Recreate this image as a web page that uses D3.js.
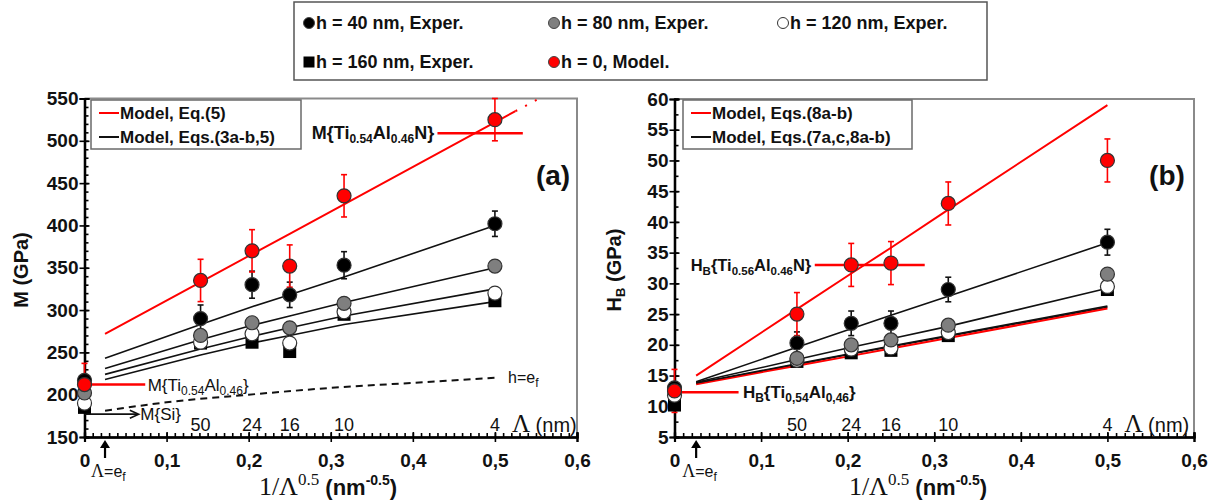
<!DOCTYPE html>
<html>
<head>
<meta charset="utf-8">
<script src="https://cdnjs.cloudflare.com/ajax/libs/d3/7.8.5/d3.min.js"></script>
<style>
  body { margin: 0; background: #fff; }
  text { font-family: "Liberation Sans", Arial, sans-serif; }
  .serif { font-family: "Liberation Serif", "Times New Roman", serif; }
</style>
</head>
<body>
<svg id="chart" width="1217" height="500"></svg>
<script>
// x positions: 1/sqrt(Lambda), first one is the bulk (x=0)
var xExp = [0, 0.1414, 0.2041, 0.25, 0.3162, 0.5];
var xModel = [0.025, 0.1414, 0.2041, 0.25, 0.3162, 0.5];
var lambdaX = [0.1414, 0.2041, 0.25, 0.3162, 0.5];
var lambdaLabels = ["50", "24", "16", "10", "4"];

// panel (a): M (GPa)
var M_h0 = [212, 335, 370, 352, 435, 525];
var M_h0_err = [25, 25, 25, 25, 25, 25];
var M_h40 = [217, 290, 330, 318, 353, 402];
var M_h40_err = [0, 16, 16, 15, 16, 15];
var M_h80 = [202, 270, 285, 279, 308, 352];
var M_h120 = [190, 262, 272, 261, 298, 320];
var M_h160 = [185, 261, 262, 251, 295, 311];
var M_model_red = [272, 333, 366, 390, 425, 535];
var M_model_redX = [0.025, 0.1414, 0.2041, 0.25, 0.3162, 0.525];
var M_model_dotX = [0.525, 0.556];
var M_model_dot = [535, 551];
var M_model_h40 = [243, 283, 304, 318, 339, 400];
var M_model_h80 = [231, 265, 282, 293, 309, 350];
var M_model_h120 = [224, 254, 269, 279, 293, 325];
var M_model_h160 = [218, 247, 261, 270, 283, 310];
var M_dashX = [0.025, 0.1, 0.2, 0.3, 0.4, 0.5];
var M_dash = [181, 191, 200, 208, 214, 220];

// panel (b): H_B (GPa)
var H_h0 = [12.5, 25, 33, 33.3, 43, 50];
var H_h0_err = [3.5, 3.5, 3.5, 3.5, 3.5, 3.5];
var H_h40 = [13, 20.3, 23.5, 23.5, 29, 36.7];
var H_h40_err = [0, 1.8, 2, 2, 2, 2.1];
var H_h80 = [12.8, 17.8, 20, 20.8, 23.2, 31.5];
var H_h120 = [11.8, 17.5, 19.3, 19.5, 22, 29.5];
var H_h160 = [10.2, 17.3, 18.7, 19.1, 21.5, 29];
var H_model_red = [15, 25.8, 31.6, 35.8, 42, 59];
var H_model_red2 = [13.6, 16.6, 18.2, 19.4, 21.1, 25.9];
var H_model_h40 = [14, 19.6, 22.6, 24.8, 27.9, 36.6];
var H_model_h80 = [13.9, 17.6, 19.6, 21.0, 23.0, 29.2];
var H_model_h120 = [13.8, 16.9, 18.6, 19.8, 21.5, 26.3];
var H_model_h160 = [13.7, 16.8, 18.5, 19.7, 21.4, 26.1];

var svg = d3.select("#chart");
var RED = "#ff0000";

function pts(xs, ys) { return xs.map(function(v, i) { return [v, ys[i]]; }); }

function drawPanel(p) {
  var x = d3.scaleLinear().domain([0, 0.6]).range(p.xr);
  var y = d3.scaleLinear().domain(p.yd).range([437, p.yTop]);
  var g = svg.append("g");

  // plot frame
  g.append("path")
    .attr("d", "M" + x(0) + "," + y(p.yd[1]) + "H" + x(0.6) + "V" + y(p.yd[0]))
    .attr("fill", "none").attr("stroke", "#8a8a8a").attr("stroke-width", 2);

  // axes: major ticks cross the axis, minor ticks inside
  var fmtX = function(d) { return d === 0 ? "0" : d3.format(".1f")(d).replace(".", ","); };
  var xa = g.append("g").attr("transform", "translate(0," + y(p.yd[0]) + ")");
  xa.call(d3.axisBottom(x).tickValues(d3.range(0, 0.61, 0.1)).tickSize(5).tickFormat(fmtX));
  xa.append("g").call(d3.axisTop(x).tickValues(d3.range(0, 0.601, 0.1)).tickSize(5).tickFormat(""));
  xa.append("g").call(d3.axisTop(x).tickValues(d3.range(0, 0.601, 0.01)).tickSize(4).tickFormat(""));
  var ya = g.append("g").attr("transform", "translate(" + x(0) + ",0)");
  ya.call(d3.axisLeft(y).tickValues(d3.range(p.yd[0], p.yd[1] + 0.1, p.yStep)).tickSize(5));
  ya.append("g").call(d3.axisRight(y).tickValues(d3.range(p.yd[0], p.yd[1] + 0.1, p.yStep)).tickSize(5).tickFormat(""));
  ya.append("g").call(d3.axisRight(y).tickValues(d3.range(p.yd[0], p.yd[1] + 0.1, p.yMinor)).tickSize(4).tickFormat(""));
  g.selectAll(".domain").attr("stroke", "#000").attr("stroke-width", 2.2);
  g.selectAll(".tick line").attr("stroke", "#000").attr("stroke-width", 1.6);
  xa.selectAll(".tick text").attr("font-size", 19).attr("font-weight", "bold").attr("fill", "#111").attr("dy", "1.15em");
  ya.selectAll(".tick text").attr("font-size", 19).attr("font-weight", "bold").attr("fill", "#111").attr("x", -6);

  var line = d3.line().x(function(d) { return x(d[0]); }).y(function(d) { return y(d[1]); });

  // model lines
  p.blackLines.forEach(function(ys) {
    g.append("path").datum(pts(xModel, ys)).attr("d", line)
      .attr("fill", "none").attr("stroke", "#111").attr("stroke-width", 1.6);
  });
  p.redLines.forEach(function(l) {
    g.append("path").datum(pts(l[0], l[1])).attr("d", line)
      .attr("fill", "none").attr("stroke", RED).attr("stroke-width", 2);
  });
  if (p.extra) p.extra(g, x, y, line);

  // error bars
  function errBars(ys, es, col) {
    ys.forEach(function(v, i) {
      if (!es[i]) return;
      var cx = x(xExp[i]);
      var eg = g.append("g").attr("stroke", col).attr("stroke-width", 1.6);
      eg.append("line").attr("x1", cx).attr("x2", cx).attr("y1", y(v - es[i])).attr("y2", y(v + es[i]));
      [v - es[i], v + es[i]].forEach(function(e) {
        eg.append("line").attr("x1", cx - 3).attr("x2", cx + 3).attr("y1", y(e)).attr("y2", y(e));
      });
    });
  }
  errBars(p.h40, p.h40err, "#111");
  errBars(p.h0, p.h0err, RED);

  // markers
  g.selectAll(".sq").data(pts(xExp, p.h160)).enter().append("rect")
    .attr("x", function(d) { return x(d[0]) - 6.5; }).attr("y", function(d) { return y(d[1]) - 6.5; })
    .attr("width", 13).attr("height", 13).attr("fill", "#000");
  [[p.h120, "#fff"], [p.h80, "#7f7f7f"], [p.h40, "#000"], [p.h0, RED]].forEach(function(s) {
    g.append("g").selectAll("circle").data(pts(xExp, s[0])).enter().append("circle")
      .attr("cx", function(d) { return x(d[0]); }).attr("cy", function(d) { return y(d[1]); })
      .attr("r", 7).attr("fill", s[1]).attr("stroke", "#333").attr("stroke-width", 1.2);
  });

  // Lambda labels
  g.selectAll(".lam").data(lambdaX).enter().append("text")
    .attr("x", function(d) { return x(d); }).attr("y", 431)
    .attr("text-anchor", "middle").attr("font-size", 18).attr("fill", "#111")
    .text(function(d, i) { return lambdaLabels[i]; });
  var lt = g.append("text").attr("x", x(0.5) + 17).attr("y", 432).attr("fill", "#111");
  lt.append("tspan").attr("class", "serif").attr("font-size", 25).text("Λ");
  lt.append("tspan").attr("font-size", 20).text(" (nm)");

  // arrow Lambda = e_f
  var ax = x(0.025);
  g.append("line").attr("x1", ax).attr("x2", ax).attr("y1", 458).attr("y2", 446)
    .attr("stroke", "#000").attr("stroke-width", 2.2);
  g.append("path").attr("d", "M" + (ax - 5) + ",448L" + ax + ",440L" + (ax + 5) + ",448Z").attr("fill", "#000");
  var el = g.append("text").attr("x", ax - 14).attr("y", 477).attr("font-size", 16).attr("fill", "#111");
  el.append("tspan").attr("class", "serif").attr("font-size", 18).text("Λ");
  el.append("tspan").text("=e");
  el.append("tspan").attr("dy", 4).attr("font-size", 12).text("f");

  // x title
  var xt = g.append("text").attr("x", p.xTitleX).attr("y", 495).attr("text-anchor", "middle").attr("fill", "#111");
  xt.append("tspan").attr("class", "serif").attr("font-size", 26).text("1/Λ");
  xt.append("tspan").attr("class", "serif").attr("font-size", 17).attr("dy", -10).text("0.5");
  xt.append("tspan").attr("font-size", 22).attr("font-weight", "bold").attr("dy", 10).text(" (nm");
  xt.append("tspan").attr("font-size", 14).attr("font-weight", "bold").attr("dy", -10).text("-0.5");
  xt.append("tspan").attr("font-size", 22).attr("font-weight", "bold").attr("dy", 10).text(")");

  // y title
  var yt = g.append("text").attr("transform", "translate(" + p.yTitleX + ",270) rotate(-90)")
    .attr("text-anchor", "middle").attr("font-size", 20).attr("font-weight", "bold").attr("fill", "#111");
  p.yTitle(yt);

  // panel letter
  g.append("text").attr("x", p.letterX).attr("y", 185).attr("text-anchor", "middle")
    .attr("font-size", 28).attr("font-weight", "bold").attr("fill", "#111").text(p.letter);

  // inner legend
  var lg = g.append("g");
  lg.append("rect").attr("x", p.leg[0]).attr("y", 100).attr("width", p.leg[1]).attr("height", 49)
    .attr("fill", "#fff").attr("stroke", "#6a6a6a").attr("stroke-width", 1.5);
  [[RED, p.legText[0], 113], ["#111", p.legText[1], 137]].forEach(function(r) {
    lg.append("line").attr("x1", p.leg[0] + 8).attr("x2", p.leg[0] + 28).attr("y1", r[2]).attr("y2", r[2])
      .attr("stroke", r[0]).attr("stroke-width", 2);
    lg.append("text").attr("x", p.leg[0] + 29).attr("y", r[2] + 6).attr("font-size", 17)
      .attr("font-weight", "bold").attr("fill", "#111").text(r[1]);
  });
}

// helper for formula labels with subscripts
function formula(t, parts, subSize) {
  parts.forEach(function(s, i) {
    var ts = t.append("tspan").text(s);
    if (i % 2 === 1) ts.attr("font-size", subSize).attr("dy", 4);
    else if (i > 0) ts.attr("dy", -4);
  });
}

drawPanel({
  xr: [84.5, 577], yd: [150, 550], yTop: 98.5, yStep: 50, yMinor: 10,
  h0: M_h0, h0err: M_h0_err, h40: M_h40, h40err: M_h40_err, h80: M_h80, h120: M_h120, h160: M_h160,
  blackLines: [M_model_h40, M_model_h80, M_model_h120, M_model_h160],
  redLines: [[M_model_redX, M_model_red]],
  xTitleX: 328, yTitleX: 28, letter: "(a)", letterX: 553,
  leg: [91, 210], legText: ["Model, Eq.(5)", "Model, Eqs.(3a-b,5)"],
  yTitle: function(t) { t.text("M (GPa)"); },
  extra: function(g, x, y, line) {
    g.append("path").datum(pts(M_model_dotX, M_model_dot)).attr("d", line)
      .attr("fill", "none").attr("stroke", RED).attr("stroke-width", 2).attr("stroke-dasharray", "2,9");
    g.append("path").datum(pts(M_dashX, M_dash)).attr("d", line.curve(d3.curveMonotoneX))
      .attr("fill", "none").attr("stroke", "#111").attr("stroke-width", 2).attr("stroke-dasharray", "7,5");
    line.curve(d3.curveLinear);
    g.append("text").attr("x", x(0.516)).attr("y", y(221) + 6).attr("font-size", 16).attr("fill", "#111")
      .call(function(t) { t.append("tspan").text("h=e"); t.append("tspan").attr("font-size", 12).attr("dy", 4).text("f"); });
    // M{Ti0.54Al0.46}
    g.append("line").attr("x1", x(0)).attr("x2", x(0.074)).attr("y1", y(212)).attr("y2", y(212))
      .attr("stroke", RED).attr("stroke-width", 2.5);
    var t1 = g.append("text").attr("x", x(0.077)).attr("y", y(212) + 6).attr("font-size", 17).attr("fill", "#111");
    formula(t1, ["M{Ti", "0.54", "Al", "0.46", "}"], 12);
    // M{Si}
    g.append("line").attr("x1", x(0)).attr("x2", x(0.065)).attr("y1", y(177)).attr("y2", y(177))
      .attr("stroke", "#111").attr("stroke-width", 1.6);
    g.append("path").attr("d", "M" + (x(0.065) - 8) + "," + (y(177) - 4) + "L" + x(0.066) + "," + y(177) + "L" + (x(0.065) - 8) + "," + (y(177) + 4))
      .attr("fill", "none").attr("stroke", "#111").attr("stroke-width", 1.6);
    g.append("text").attr("x", x(0.068)).attr("y", y(177) + 6).attr("font-size", 17).attr("fill", "#111").text("M{Si}");
    // M{Ti0.54Al0.46N}
    g.append("line").attr("x1", x(0.43)).attr("x2", x(0.534)).attr("y1", y(509)).attr("y2", y(509))
      .attr("stroke", RED).attr("stroke-width", 2.5);
    var t2 = g.append("text").attr("x", x(0.426)).attr("y", y(509) + 6).attr("text-anchor", "end")
      .attr("font-size", 18).attr("font-weight", "bold").attr("fill", "#111");
    formula(t2, ["M{Ti", "0.54", "Al", "0.46", "N}"], 12);
  }
});

drawPanel({
  xr: [674.5, 1194], yd: [5, 60], yTop: 99, yStep: 5, yMinor: 2.5,
  h0: H_h0, h0err: H_h0_err, h40: H_h40, h40err: H_h40_err, h80: H_h80, h120: H_h120, h160: H_h160,
  blackLines: [H_model_h40, H_model_h80, H_model_h160],
  redLines: [[xModel, H_model_red], [xModel, H_model_red2]],
  xTitleX: 918, yTitleX: 621, letter: "(b)", letterX: 1167,
  leg: [683, 229], legText: ["Model, Eqs.(8a-b)", "Model, Eqs.(7a,c,8a-b)"],
  yTitle: function(t) {
    t.append("tspan").text("H");
    t.append("tspan").attr("font-size", 13).attr("dy", 4).text("B");
    t.append("tspan").attr("dy", -4).text(" (GPa)");
  },
  extra: function(g, x, y, line) {
    g.append("path").datum(pts(xModel, H_model_h120)).attr("d", line)
      .attr("fill", "none").attr("stroke", "#111").attr("stroke-width", 1.6);
    // H_B{Ti0.56Al0.46N}
    g.append("line").attr("x1", x(0.162)).attr("x2", x(0.289)).attr("y1", y(33)).attr("y2", y(33))
      .attr("stroke", RED).attr("stroke-width", 2.5);
    var t1 = g.append("text").attr("x", x(0.158)).attr("y", y(33) + 6).attr("text-anchor", "end")
      .attr("font-size", 16.5).attr("font-weight", "bold").attr("fill", "#111");
    formula(t1, ["H", "B", "{Ti", "0.56", "Al", "0.46", "N}"], 11.5);
    // H_B{Ti0,54Al0,46}
    g.append("line").attr("x1", x(0)).attr("x2", x(0.074)).attr("y1", y(12.3)).attr("y2", y(12.3))
      .attr("stroke", RED).attr("stroke-width", 2.5);
    var t2 = g.append("text").attr("x", x(0.079)).attr("y", y(12.3) + 6)
      .attr("font-size", 17).attr("font-weight", "bold").attr("fill", "#111");
    formula(t2, ["H", "B", "{Ti", "0,54", "Al", "0,46", "}"], 12);
  }
});

// top legend
var legItems = [
  {x: 309, y: 23, shape: "circle", fill: "#000", label: "h = 40 nm, Exper."},
  {x: 554, y: 23, shape: "circle", fill: "#7f7f7f", label: "h = 80 nm, Exper."},
  {x: 783, y: 23, shape: "circle", fill: "#fff", label: "h = 120 nm, Exper."},
  {x: 309, y: 62, shape: "square", fill: "#000", label: "h = 160 nm, Exper."},
  {x: 554, y: 62, shape: "circle", fill: RED, label: "h = 0, Model."}
];
var tl = svg.append("g");
tl.append("rect").attr("x", 294).attr("y", 2).attr("width", 693).attr("height", 78)
  .attr("fill", "#fff").attr("stroke", "#555").attr("stroke-width", 1.5);
legItems.forEach(function(d) {
  if (d.shape === "square") {
    tl.append("rect").attr("x", d.x - 5.5).attr("y", d.y - 5.5).attr("width", 11).attr("height", 11).attr("fill", d.fill);
  } else {
    tl.append("circle").attr("cx", d.x).attr("cy", d.y).attr("r", 5.5).attr("fill", d.fill)
      .attr("stroke", d.fill === "#fff" ? "#333" : "#444").attr("stroke-width", 1);
  }
  tl.append("text").attr("x", d.x + 7).attr("y", d.y + 6).attr("font-size", 18)
    .attr("font-weight", "bold").attr("fill", "#111").text(d.label);
});
</script>
</body>
</html>
